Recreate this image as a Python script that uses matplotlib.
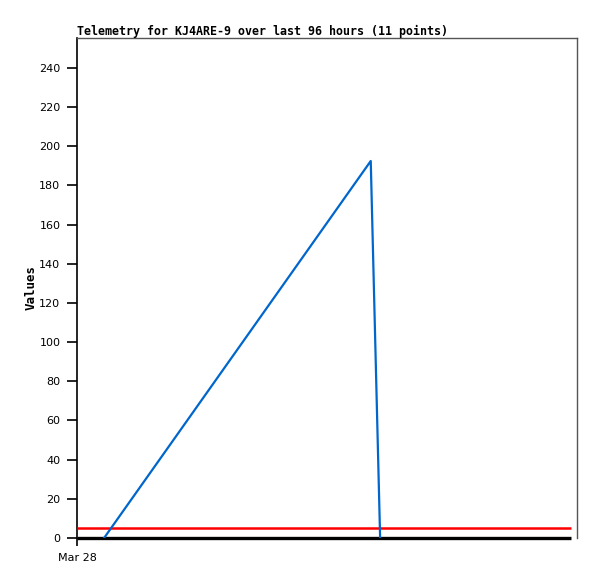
import matplotlib
matplotlib.use("Agg")
import matplotlib.pyplot as plt

# hours since Mar 28 00:00
telem_hours = [5.2, 56.4, 58.2]
telem_values = [0, 192.5, 0]

ref_hours = [0, 94.8]
red_level = [5, 5]
zero_level = [0, 0]

y_ticks = list(range(0, 241, 20))
x_ticks = [0]
x_tick_labels = ["Mar 28"]

fig = plt.figure(figsize=(5.97, 5.79), dpi=100)
ax = fig.add_axes([77 / 597, 41 / 579, 500 / 597, 500 / 579])

ax.plot(ref_hours, zero_level, color="black", lw=2.4, solid_capstyle="butt", zorder=2, clip_on=False)
ax.plot(ref_hours, red_level, color="#ff0000", lw=1.8, solid_capstyle="butt", zorder=3)
ax.plot(telem_hours, telem_values, color="#0066cc", lw=1.6, zorder=4)

ax.set_xlim(0, 96)
ax.set_ylim(0, 255.3)
ax.set_yticks(y_ticks)
ax.set_xticks(x_ticks)
ax.set_xticklabels(x_tick_labels)

for side in ["top", "right"]:
    ax.spines[side].set_color("#555555")
    ax.spines[side].set_linewidth(1.0)
ax.spines["left"].set_linewidth(1.2)
ax.spines["bottom"].set_visible(False)

ax.tick_params(axis="y", direction="out", length=7, width=1.2, pad=5, labelsize=8)
ax.tick_params(axis="x", direction="out", length=6, width=1.2, pad=5, labelsize=8)
for lbl in ax.get_xticklabels() + ax.get_yticklabels():
    lbl.set_fontfamily("DejaVu Sans")

ax.set_ylabel("Values", family="DejaVu Sans Mono", fontweight="bold", fontsize=9, labelpad=1)
ax.set_title("Telemetry for KJ4ARE-9 over last 96 hours (11 points)", loc="left",
             family="DejaVu Sans Mono", fontweight="bold", fontsize=8.35, pad=2)

fig.savefig("out.png", dpi=100)
